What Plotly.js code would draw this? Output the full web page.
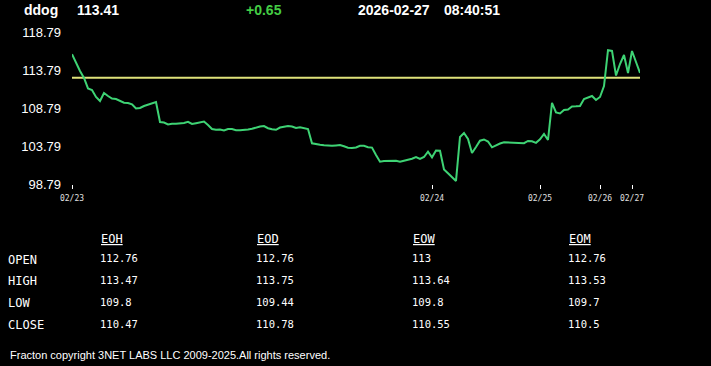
<!DOCTYPE html>
<html>
<head>
<meta charset="utf-8">
<script src="https://cdn.plot.ly/plotly-3.0.1.min.js"></script>
<style>
  html, body { margin: 0; padding: 0; background: #000; }
  #chart { width: 711px; height: 366px; }
</style>
</head>
<body>
<div id="chart"></div>
<script>
// ---- data ----
const symbol = 'ddog';
const lastPrice = '113.41';
const change = '+0.65';
const dateStr = '2026-02-27';
const timeStr = '08:40:51';
const openPrice = 112.76;

const prices = [
  115.86, 114.65, 113.66, 112.74, 111.36, 111.16, 110.24, 109.71, 110.76, 110.37,
  110.04, 109.97, 109.71, 109.49, 109.45, 109.28, 108.72, 108.79, 109.05, 109.21,
  109.32, 109.58, 106.95, 106.88, 106.62, 106.72, 106.71, 106.75, 106.82, 106.97,
  106.69, 106.79, 106.95, 107.01, 106.55, 106.03, 105.92, 105.96, 105.83, 106.03,
  106.02, 105.86, 105.85, 105.87, 105.96, 106.05, 106.22, 106.36, 106.42, 106.13,
  105.99, 105.92, 106.22, 106.36, 106.42, 106.36, 106.16, 106.25, 106.16, 106.03,
  104.15, 104.00, 103.95, 103.88, 103.82, 103.81, 103.87, 103.92, 103.75, 103.57,
  103.53, 103.59, 103.82, 103.82, 103.63, 103.58, 102.61, 101.72, 101.82, 101.86,
  101.85, 101.84, 101.72, 101.84, 101.97, 102.12, 102.34, 102.08, 102.34, 103.04,
  102.30, 103.20, 103.17, 100.70, 100.20, 99.65, 99.19, 104.97, 105.50, 104.71,
  102.87, 103.66, 104.49, 104.65, 104.38, 103.62, 103.88, 104.12, 104.28, 104.25,
  104.24, 104.21, 104.18, 104.16, 104.45, 104.42, 104.21, 104.67, 105.37, 104.58,
  109.45, 108.20, 108.07, 108.53, 108.59, 108.99, 109.01, 109.05, 109.97, 110.17,
  110.37, 109.84, 110.24, 111.68, 116.40, 116.30, 113.07, 114.58, 115.76, 113.40,
  116.29, 114.84, 113.41
];
const dayLabels = ['02/23', '02/24', '02/25', '02/26', '02/27'];
const dayStartIdx = [0, 90, 117, 132, 140];
const yTickVals = [98.79, 103.79, 108.79, 113.79, 118.79];

const statCols = ['EOH', 'EOD', 'EOW', 'EOM'];
const statRows = ['OPEN', 'HIGH', 'LOW', 'CLOSE'];
const eohVals = [112.76, 113.47, 109.8, 110.47];
const eodVals = [112.76, 113.75, 109.44, 110.78];
const eowVals = [113, 113.64, 109.8, 110.55];
const eomVals = [112.76, 113.53, 109.7, 110.5];
const footer = 'Fracton copyright 3NET LABS LLC 2009-2025.All rights reserved.';

// ---- layout helpers ----
const W = 711, H = 366;
const M = { l: 72, r: 71, t: 32, b: 182 };
const PW = W - M.l - M.r, PH = H - M.t - M.b;
const px = x => (x - M.l) / PW;
const py = y => (H - M.b - y) / PH;

const idx = prices.map((_, i) => i);
const statData = [eohVals, eodVals, eowVals, eomVals];

const annotations = [];
function addText(text, x, y, font) {
  annotations.push({
    text: text, xref: 'paper', yref: 'paper', x: px(x), y: py(y),
    xanchor: 'left', yanchor: 'middle', showarrow: false, borderpad: 0,
    font: font
  });
}
const hdrFont = { family: 'Liberation Sans, Arial, sans-serif', size: 14, color: '#ffffff' };
addText('<b>' + symbol + '</b>', 23, 9.5, hdrFont);
addText('<b>' + lastPrice + '</b>', 76, 9.5, hdrFont);
addText('<b>' + change + '</b>', 245, 9.5, Object.assign({}, hdrFont, { color: '#44cc44' }));
addText('<b>' + dateStr + '</b>', 357, 9.5, hdrFont);
addText('<b>' + timeStr + '</b>', 443, 9.5, hdrFont);

const monoLbl = { family: 'DejaVu Sans Mono, Liberation Mono, monospace', size: 12, color: '#ffffff' };
const monoVal = { family: 'DejaVu Sans Mono, Liberation Mono, monospace', size: 10.5, color: '#ffffff' };
const colX = [99, 255, 411, 567];
const rowLblY = [260, 281, 303, 325];
const rowValY = [258, 280, 302, 324];
statCols.forEach((c, ci) => {
  addText('<span style="text-decoration:underline">' + c + '</span>', colX[ci] + 1, 239, monoLbl);
  statData[ci].forEach((v, ri) => addText(String(v), colX[ci], rowValY[ri], monoVal));
});
statRows.forEach((r, ri) => addText(r, 7, rowLblY[ri], monoLbl));
addText(footer, 9, 355, { family: 'Liberation Sans, Arial, sans-serif', size: 11, color: '#ffffff' });

const traces = [
  {
    x: [idx[0], idx[idx.length - 1]], y: [openPrice, openPrice],
    mode: 'lines', line: { color: '#dfe27a', width: 2 }, hoverinfo: 'skip'
  },
  {
    x: idx, y: prices, mode: 'lines',
    line: { color: '#3ed374', width: 2 }, hoverinfo: 'skip'
  }
];

const layout = {
  width: W, height: H, margin: M,
  paper_bgcolor: '#000', plot_bgcolor: '#000',
  showlegend: false,
  xaxis: {
    range: [0, prices.length - 1], showgrid: false, zeroline: false, showline: false,
    tickvals: dayStartIdx, ticktext: dayLabels, ticks: 'outside', ticklen: 4,
    tickcolor: '#ffffff', tickwidth: 1, ticklabelstandoff: 2,
    tickfont: { family: 'DejaVu Sans Mono, monospace', size: 8, color: '#e0e0e0' }
  },
  yaxis: {
    range: [98.79, 118.79], showgrid: false, zeroline: false, showline: false,
    tickvals: yTickVals, ticktext: yTickVals.map(v => v.toFixed(2)), ticks: '',
    ticklabelstandoff: 10,
    tickfont: { family: 'Liberation Sans, Arial, sans-serif', size: 13, color: '#ffffff' }
  },
  annotations: annotations
};

Plotly.newPlot('chart', traces, layout, { staticPlot: true, displayModeBar: false });
</script>
</body>
</html>
